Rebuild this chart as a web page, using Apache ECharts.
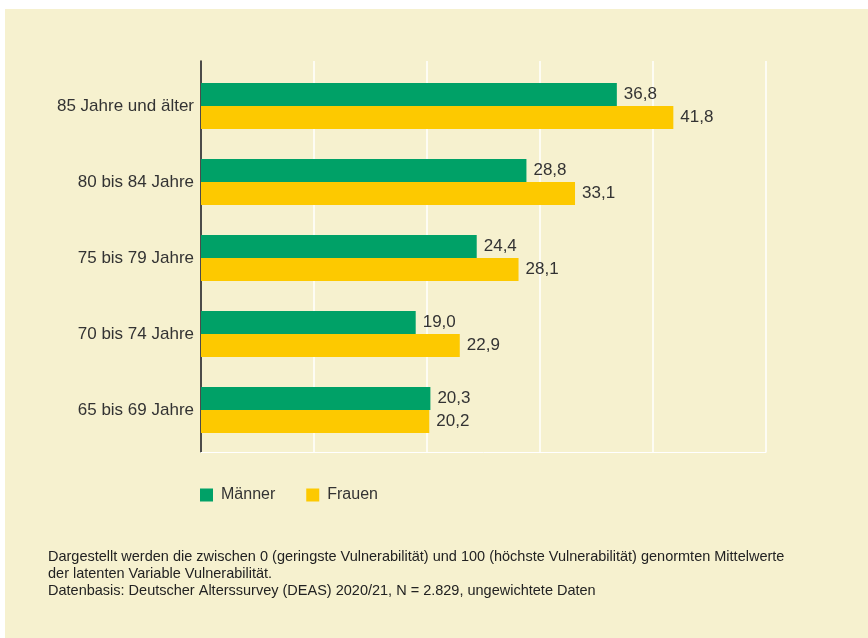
<!DOCTYPE html>
<html>
<head>
<meta charset="utf-8">
<script src="https://cdn.jsdelivr.net/npm/echarts@6/dist/echarts.min.js"></script>
<style>
  html, body { margin: 0; padding: 0; background: #fff; }
  #chart { width: 868px; height: 638px; }
</style>
</head>
<body>
<div id="chart"></div>
<script>
// Altersgruppen, von oben nach unten
const categories = ['85 Jahre und älter', '80 bis 84 Jahre', '75 bis 79 Jahre', '70 bis 74 Jahre', '65 bis 69 Jahre'];
const maenner = [36.8, 28.8, 24.4, 19.0, 20.3];
const frauen = [41.8, 33.1, 28.1, 22.9, 20.2];
const notes = [
  'Dargestellt werden die zwischen 0 (geringste Vulnerabilität) und 100 (höchste Vulnerabilität) genormten Mittelwerte',
  'der latenten Variable Vulnerabilität.',
  'Datenbasis: Deutscher Alterssurvey (DEAS) 2020/21, N = 2.829, ungewichtete Daten'
];

const font = '"Liberation Sans", Arial, sans-serif';
const fmt = p => p.value.toFixed(1).replace('.', ',');

const chart = echarts.init(document.getElementById('chart'));
chart.setOption({
  backgroundColor: '#fff',
  textStyle: { fontFamily: font },
  graphic: [{
    type: 'rect', z: -10, silent: true,
    shape: { x: 5, y: 9, width: 863, height: 629 },
    style: { fill: '#f6f1cf' }
  }],
  title: {
    text: notes.join('\n'),
    left: 48, top: 548, padding: 0,
    textStyle: { fontSize: 14.5, fontWeight: 'normal', color: '#222', lineHeight: 17, fontFamily: font }
  },
  legend: {
    data: ['Männer', 'Frauen'],
    left: 200, top: 487, padding: 0,
    icon: 'rect', itemWidth: 13, itemHeight: 13, itemGap: 31,
    textStyle: { fontSize: 16, color: '#333', fontFamily: font, padding: [0, 0, 0, 3] }
  },
  grid: [
    // Rahmen mit Gitterlinien
    { left: 201, right: 102, top: 61, bottom: 186 },
    // Balken
    { left: 201, right: 102, top: 68, bottom: 190 }
  ],
  xAxis: [
    {
      gridIndex: 0, type: 'value', min: 0, max: 50, interval: 10,
      axisLabel: { show: false },
      axisTick: { show: false },
      axisLine: { show: true, lineStyle: { color: '#fff', width: 1 } },
      splitLine: { show: true, lineStyle: { color: '#fff', width: 1.5 } }
    },
    {
      gridIndex: 1, type: 'value', min: 0, max: 50, interval: 10,
      axisLabel: { show: false }, axisTick: { show: false },
      axisLine: { show: false }, splitLine: { show: false }
    }
  ],
  yAxis: [
    {
      gridIndex: 0, type: 'value', min: 0, max: 1,
      axisLabel: { show: false }, axisTick: { show: false },
      splitLine: { show: false },
      axisLine: { show: true, lineStyle: { color: '#111', width: 1.5 } }
    },
    {
      gridIndex: 1, type: 'category', data: categories, inverse: true,
      axisTick: { show: false },
      axisLine: { show: false },
      axisLabel: { fontSize: 17, color: '#333', margin: 7, fontFamily: font }
    }
  ],
  series: [
    {
      name: 'Männer', type: 'bar', data: maenner,
      xAxisIndex: 1, yAxisIndex: 1,
      barWidth: 23, barGap: '0%',
      itemStyle: { color: '#00a167' },
      label: { show: true, position: 'right', distance: 7, fontSize: 17, color: '#333', formatter: fmt, fontFamily: font }
    },
    {
      name: 'Frauen', type: 'bar', data: frauen,
      xAxisIndex: 1, yAxisIndex: 1,
      barWidth: 23, barGap: '0%',
      itemStyle: { color: '#fdc900' },
      label: { show: true, position: 'right', distance: 7, fontSize: 17, color: '#333', formatter: fmt, fontFamily: font }
    }
  ]
});
</script>
</body>
</html>
